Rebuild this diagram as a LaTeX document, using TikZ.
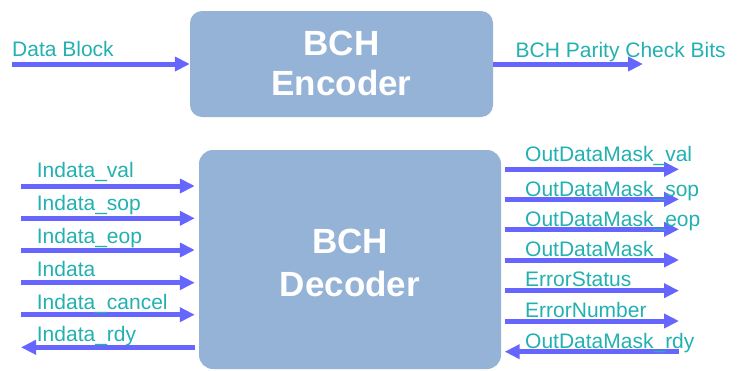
\documentclass[tikz,border=0pt]{standalone}
\usepackage{fontspec}
\setmainfont{Liberation Sans}
\usetikzlibrary{arrows.meta}
\definecolor{boxblue}{HTML}{95B3D7}
\definecolor{sigblue}{HTML}{6666FF}
\definecolor{labteal}{HTML}{22B0B0}
\tikzset{
  blockbox/.style={draw=none, fill=boxblue, rounded corners=12pt, inner sep=0pt},
  blocktext/.style={text=white, font=\fontsize{35}{42}\selectfont\bfseries, inner sep=0pt, anchor=base},
  sig/.style={draw=sigblue, line width=5pt, -{Triangle[length=15pt,width=14pt]}},
  lab/.style={text=labteal, font=\fontsize{21}{25}\selectfont, inner sep=0pt, anchor=base west},
}
\begin{document}
\begin{tikzpicture}[x=1pt,y=-1pt]
\useasboundingbox (0,0) rectangle (745,370);
% encoder
\node[blockbox, minimum width=303pt, minimum height=106pt] (enc) at (341.5,64) {};
\node[blocktext] (encA) at (341.5,55) {BCH};
\node[blocktext] (encB) at (341.5,95) {Encoder};
\coordinate (din) at (12,64);
\coordinate (pout) at (643,64);
\draw[sig] (din) -- (din -| enc.west);
\draw[sig] (enc.east |- pout) -- (pout);
\node[lab] (ldin) at (12,56) {Data Block};
\node[lab] (lpout) at (515.5,57) {BCH Parity Check Bits};
% decoder
\node[blockbox, rounded corners=14pt, minimum width=302pt, minimum height=219pt] (dec) at (350,259.5) {};
\node[blocktext] (decA) at (350,253.3) {BCH};
\node[blocktext] (decB) at (350,296.7) {Decoder};
% left inputs
\foreach \n/\y/\b/\t in {a/186/177.3/Indata\_val, b/218.3/210.7/Indata\_sop, c/250/243.3/Indata\_eop, d/282.7/276.7/Indata, e/314.7/309/Indata\_cancel}{
  \coordinate (in\n) at (21,\y);
  \draw[sig, shorten >=4pt] (in\n) -- (in\n -| dec.west);
  \node[lab] (lin\n) at (36.7,\b) {\t};
}
\coordinate (inf) at (21,347.3);
\draw[sig, shorten <=4pt] (inf -| dec.west) -- (inf);
\node[lab] (linf) at (36.7,341.7) {Indata\_rdy};
% right outputs
\foreach \n/\y/\b/\t in {a/169.3/161.7/OutDataMask\_val, b/199.3/196/OutDataMask\_sop, c/229.3/226/OutDataMask\_eop, d/260/256/OutDataMask, e/290.7/286.7/ErrorStatus, f/321/317/ErrorNumber}{
  \coordinate (out\n) at (679,\y);
  \draw[sig, shorten <=3.5pt] (out\n -| dec.east) -- (out\n);
  \node[lab] (lout\n) at (525,\b) {\t};
}
\coordinate (outg) at (679,351.7);
\draw[sig, shorten >=3.5pt] (outg) -- (outg -| dec.east);
\node[lab] (loutg) at (525,348) {OutDataMask\_rdy};
\end{tikzpicture}
\end{document}
